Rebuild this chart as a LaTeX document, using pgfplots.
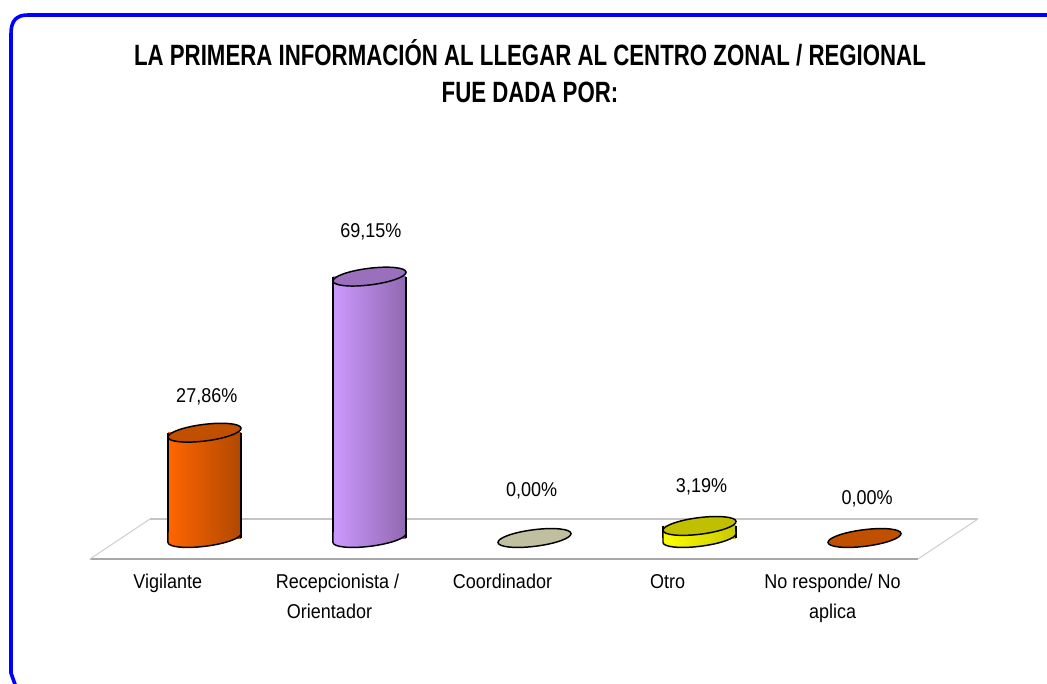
\documentclass[border=0pt]{standalone}
\usepackage{pgfplots}
\pgfplotsset{compat=1.18}
\usepackage{fontspec}
\setmainfont{Liberation Sans}
\newfontfamily\titlefont[FakeStretch=0.758]{Liberation Sans}
\newfontfamily\labelfont[FakeStretch=0.90]{Liberation Sans}
\definecolor{framecol}{HTML}{0000FF}
\definecolor{floorfront}{HTML}{A8A8A8}
\definecolor{floorback}{HTML}{C4C4C4}
\definecolor{floorside}{HTML}{CFCFCF}
\definecolor{orL}{HTML}{FF6600}\definecolor{orR}{HTML}{B04800}\definecolor{orT}{HTML}{C05000}
\definecolor{puL}{HTML}{CC99FF}\definecolor{puR}{HTML}{9068B0}\definecolor{puT}{HTML}{9A70BC}
\definecolor{yeL}{HTML}{FFFF00}\definecolor{yeR}{HTML}{C8C800}\definecolor{yeT}{HTML}{C0C000}
\definecolor{khT}{HTML}{C0C0A0}
% whole ellipse: top faces and flat discs
\newcommand\capmark[3]{%
  \pgfdeclarehorizontalshading{sh#1}{100bp}{color(0bp)=(#2); color(25bp)=(#2); color(75bp)=(#3); color(100bp)=(#3)}%
  \pgfdeclareplotmark{#1}{%
    \pgfpathellipse{\pgfpointorigin}{\pgfqpoint{27.4pt}{3.4pt}}{\pgfqpoint{-0.6pt}{6.2pt}}%
    \pgfshadepath{sh#1}{0}%
    \pgfsetstrokecolor{black}\pgfsetlinewidth{1.1pt}\pgfusepath{stroke}}}
% lower half only: foot of a cylinder
\newcommand\footcurve{%
  \pgfpathcurveto{\pgfqpoint{-27.07pt}{-6.82pt}}{\pgfqpoint{-14.53pt}{-8.08pt}}{\pgfqpoint{0.6pt}{-6.2pt}}%
  \pgfpathcurveto{\pgfqpoint{15.73pt}{-4.32pt}}{\pgfqpoint{27.73pt}{-0.02pt}}{\pgfqpoint{27.4pt}{3.4pt}}}
\newcommand\footmark[3]{%
  \pgfdeclarehorizontalshading{sh#1}{100bp}{color(0bp)=(#2); color(25bp)=(#2); color(75bp)=(#3); color(100bp)=(#3)}%
  \pgfdeclareplotmark{#1}{%
    \pgfpathmoveto{\pgfqpoint{-27.4pt}{-3.4pt}}\footcurve
    \pgfpathlineto{\pgfqpoint{27.4pt}{4pt}}\pgfpathlineto{\pgfqpoint{-27.4pt}{4pt}}\pgfpathclose
    \pgfshadepath{sh#1}{0}\pgfusepath{discard}%
    \pgfpathmoveto{\pgfqpoint{-27.4pt}{4pt}}\pgfpathlineto{\pgfqpoint{-27.4pt}{-3.4pt}}\footcurve
    \pgfpathlineto{\pgfqpoint{27.4pt}{4pt}}%
    \pgfsetstrokecolor{black}\pgfsetlinewidth{1.1pt}\pgfusepath{stroke}}}
\footmark{capOrB}{orL}{orR}
\capmark{capOrT}{orT}{orT}
\footmark{capPuB}{puL}{puR}
\capmark{capPuT}{puT}{puT}
\capmark{capKh}{khT}{khT}
\footmark{capYeB}{yeL}{yeR}
\capmark{capYeT}{yeT}{yeT}
\pgfplotsset{
  cylbody/.style n args={2}{ybar,bar width=54.75pt,bar shift=0pt,draw=none,left color=#1,right color=#2,forget plot},
  cylside/.style={ycomb,black,line width=1.1pt,no markers,forget plot},
  cap/.style={only marks,mark=#1,forget plot},
}
\begin{document}
\begin{tikzpicture}
% page frame, in pixel units of the picture
\begin{axis}[
  at={(0pt,0pt)},anchor=south west,
  scale only axis,width=785.25pt,height=512.25pt,
  xmin=0,xmax=1047,ymin=0,ymax=683,y dir=reverse,
  hide axis]
  \fill[white] (axis cs:0,0) rectangle (axis cs:1047,683);
  \draw[framecol,line width=2.7pt,line join=round]
    (axis cs:17,690) -- (axis cs:11,673) -- (axis cs:11,34)
    .. controls (axis cs:11,21) and (axis cs:16,15) .. (axis cs:28,15)
    -- (axis cs:1060,15);
  \node[align=center,font=\titlefont\bfseries\fontsize{22}{27.75}\selectfont]
    at (axis cs:530,71) {LA PRIMERA INFORMACIÓN AL LLEGAR AL CENTRO ZONAL / REGIONAL\\FUE DADA POR:};
\end{axis}
% the chart
\begin{axis}[
  at={(0pt,93pt)},anchor=south west,
  scale only axis,width=785.25pt,height=408pt,
  xmin=-1.2394,xmax=5.106,ymin=-5.556,ymax=138.36,
  clip=false,
  axis line style={draw=none},
  xtick={0,1,2,3,4},ytick=\empty,
  major tick length=0pt,
  xticklabels={{\hspace*{-7pt}Vigilante},{Recepcionista /\\\hspace*{-12pt}Orientador},Coordinador,Otro,{No responde/ No\\aplica}},
  xticklabel style={align=center,xshift=-24pt,yshift=-8pt,
    font=\labelfont\fontsize{15}{22.5}\selectfont},
]
  % floor
  \addplot[floorfront,line width=1.1pt,forget plot] coordinates {(-0.694,-5.556) (4.324,-5.556)};
  \addplot[floorback,line width=1.1pt,forget plot] coordinates {(-0.330,5.03) (4.688,5.03)};
  \addplot[floorside,line width=0.8pt,forget plot] coordinates {(-0.694,-5.556) (-0.330,5.03)};
  \addplot[floorside,line width=0.8pt,forget plot] coordinates {(4.324,-5.556) (4.688,5.03)};
  % Vigilante
  \addplot[cap=capOrB] coordinates {(0,0)};
  \addplot[cylbody={orL}{orR}] coordinates {(0,27.86)};
  \addplot[cylside,xshift=-27.4pt] coordinates {(0,27.86)};
  \addplot[cylside,xshift=27.4pt] coordinates {(0,27.86)};
  \addplot[cap=capOrT] coordinates {(0,27.86)};
  % Recepcionista
  \addplot[cap=capPuB] coordinates {(1,0)};
  \addplot[cylbody={puL}{puR}] coordinates {(1,69.15)};
  \addplot[cylside,xshift=-27.4pt] coordinates {(1,69.15)};
  \addplot[cylside,xshift=27.4pt] coordinates {(1,69.15)};
  \addplot[cap=capPuT] coordinates {(1,69.15)};
  % Coordinador
  \addplot[cap=capKh] coordinates {(2,0.00)};
  % Otro
  \addplot[cap=capYeB] coordinates {(3,0)};
  \addplot[cylbody={yeL}{yeR}] coordinates {(3,3.19)};
  \addplot[cylside,xshift=-27.4pt] coordinates {(3,3.19)};
  \addplot[cylside,xshift=27.4pt] coordinates {(3,3.19)};
  \addplot[cap=capYeT] coordinates {(3,3.19)};
  % No responde
  \addplot[cap=capOrT] coordinates {(4,0.00)};
  % value labels
  \begin{scope}[every node/.style={font=\labelfont\fontsize{15}{18}\selectfont}]
  \node[xshift=1.7pt,yshift=27pt] at (axis cs:0,27.86) {27,86\%};
  \node[xshift=1pt,yshift=33.5pt] at (axis cs:1,69.15) {69,15\%};
  \node[xshift=-2.2pt,yshift=35.3pt] at (axis cs:2,0) {0,00\%};
  \node[xshift=1.5pt,yshift=29.3pt] at (axis cs:3,3.19) {3,19\%};
  \node[xshift=2pt,yshift=29.3pt] at (axis cs:4,0) {0,00\%};
  \end{scope}
\end{axis}
\end{tikzpicture}
\end{document}
